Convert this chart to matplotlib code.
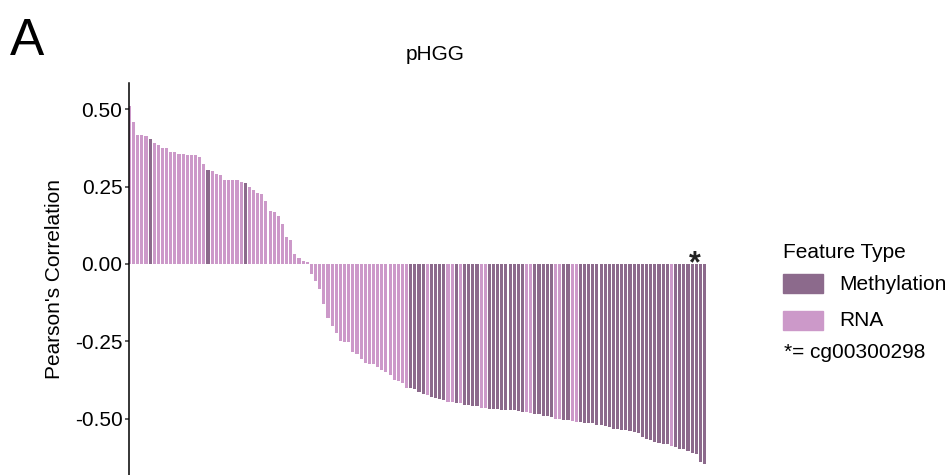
import matplotlib
matplotlib.use("Agg")
import matplotlib.pyplot as plt
from matplotlib.patches import Rectangle
import numpy as np

plt.rcParams["font.family"] = ["Liberation Sans", "DejaVu Sans"]

# Pearson correlation per feature, sorted
corr = [
    0.510, 0.458, 0.416, 0.416, 0.413, 0.403, 0.391, 0.384, 0.374, 0.374,
    0.362, 0.362, 0.355, 0.355, 0.352, 0.352, 0.352, 0.345, 0.323, 0.303,
    0.300, 0.291, 0.287, 0.271, 0.271, 0.271, 0.271, 0.265, 0.262, 0.249,
    0.239, 0.229, 0.226, 0.203, 0.171, 0.168, 0.155, 0.129, 0.087, 0.078,
    0.032, 0.020, 0.010, 0.007, -0.032, -0.055, -0.080, -0.129, -0.174, -0.200,
    -0.222, -0.248, -0.251, -0.251, -0.284, -0.290, -0.306, -0.319, -0.322, -0.322,
    -0.332, -0.342, -0.348, -0.358, -0.374, -0.377, -0.384, -0.400, -0.400, -0.403,
    -0.413, -0.419, -0.422, -0.429, -0.432, -0.435, -0.438, -0.445, -0.445, -0.448,
    -0.448, -0.455, -0.455, -0.458, -0.458, -0.464, -0.464, -0.468, -0.468, -0.468,
    -0.471, -0.471, -0.471, -0.471, -0.474, -0.477, -0.477, -0.480, -0.484, -0.484,
    -0.490, -0.490, -0.493, -0.500, -0.500, -0.503, -0.503, -0.506, -0.509, -0.509,
    -0.513, -0.513, -0.513, -0.519, -0.519, -0.522, -0.526, -0.532, -0.532, -0.535,
    -0.535, -0.538, -0.542, -0.545, -0.558, -0.564, -0.568, -0.574, -0.577, -0.580,
    -0.580, -0.587, -0.590, -0.597, -0.597, -0.603, -0.609, -0.613, -0.638, -0.645,
]

# M = Methylation, R = RNA, one letter per bar
feature_type = (
    "RRRRRMRRRRRRRRRRRRRM"
    "RRRRRRRRMRRRRRRRRRRR"
    "RRRRRRRRRRRRRRRRRRRR"
    "RRRRRRRRMMMMRMMMMRRM"
    "RMMMMRRMMMMMMMMMRRMM"
    "MMMRRMMRRMMMMMMMMMMM"
    "MMMMMMMMMMMRMMMMMMMM"
)

star_idx = 137  # cg00300298
yticks = [0.50, 0.25, 0.00, -0.25, -0.50]
ytick_labels = ["0.50", "0.25", "0.00", "-0.25", "-0.50"]

colors = {"M": "#8c6a8c", "R": "#cc99c9"}
labels = {"M": "Methylation", "R": "RNA"}

fig = plt.figure(figsize=(9.5, 4.75), dpi=100)
W, H = 950, 475
ax = fig.add_axes([129.4 / W, 0.0, (707 - 129.4) / W, (475 - 83) / H])

x = np.arange(len(corr))
bar_colors = [colors[t] for t in feature_type]
ax.bar(x, corr, width=0.75, color=bar_colors, linewidth=0)

ax.set_xlim(0, len(corr) - 1 + 0.6)
ax.set_ylim(-0.681, 0.584)

# marker for the highlighted CpG
ax.text(star_idx - 0.4, -0.028, "*", ha="center", va="baseline",
        fontsize=22, fontweight="bold", color="#222222")

for s in ["top", "right", "bottom"]:
    ax.spines[s].set_visible(False)
ax.spines["left"].set_linewidth(1.1)
ax.spines["left"].set_color("black")
ax.set_xticks([])
ax.set_yticks(yticks)
ax.set_yticklabels(ytick_labels)
ax.tick_params(axis="y", length=3, width=1.1, color="#333333",
               labelsize=15, pad=2, labelcolor="black")
ax.set_ylabel("Pearson's Correlation", fontsize=15, labelpad=8)

fig.text(435 / W, 1 - 54 / H, "pHGG", ha="center", va="center", fontsize=15)
fig.text(10 / W, 1 - 55 / H, "A", ha="left", va="baseline", fontsize=37)

# legend
fig.text(783 / W, 1 - 253 / H, "Feature Type", ha="left", va="center", fontsize=15)
for key, ytop in [("M", 274), ("R", 311)]:
    fig.patches.append(Rectangle((783 / W, 1 - (ytop + 19) / H), 40 / W, 19 / H,
                                 transform=fig.transFigure, color=colors[key]))
    fig.text(839 / W, 1 - (ytop + 10) / H, labels[key], ha="left", va="center",
             fontsize=15)
fig.text(784 / W, 1 - 352 / H, "*= cg00300298", ha="left", va="center", fontsize=15)

fig.savefig("out.png", dpi=100)
